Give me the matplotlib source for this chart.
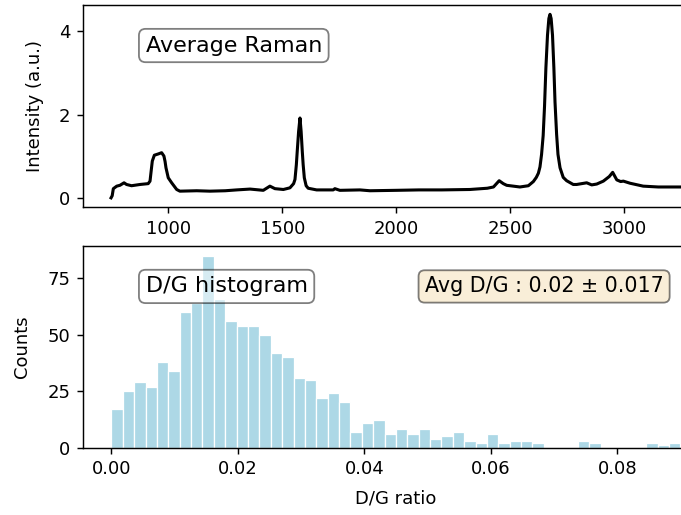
import numpy as np
import matplotlib
matplotlib.use("Agg")
import matplotlib.pyplot as plt

# averaged Raman spectrum
wavenumber = [749, 754, 759, 774, 788, 806, 817, 839, 876, 912, 920, 926, 930, 939, 956,
              971, 981, 986, 990, 1000, 1015, 1037, 1051, 1125, 1183, 1250, 1300, 1359,
              1417, 1446, 1468, 1505, 1534, 1550, 1556, 1562, 1566, 1572, 1578, 1583,
              1588, 1592, 1597, 1605, 1614, 1651, 1724, 1731, 1753, 1841, 1885, 2000,
              2100, 2200, 2323, 2400, 2427, 2452, 2470, 2485, 2543, 2580, 2602, 2615,
              2624, 2631, 2638, 2645, 2651, 2657, 2664, 2670, 2675, 2680, 2686, 2692,
              2697, 2704, 2710, 2719, 2733, 2748, 2777, 2792, 2836, 2858, 2880, 2909,
              2935, 2950, 2962, 2968, 2985, 2997, 3026, 3084, 3150, 3201, 3300, 3380]
intensity = [0.01, 0.06, 0.23, 0.29, 0.31, 0.37, 0.33, 0.30, 0.33, 0.35, 0.41, 0.70, 0.89,
             1.03, 1.06, 1.09, 1.01, 0.88, 0.73, 0.49, 0.37, 0.21, 0.17, 0.18, 0.17, 0.18,
             0.20, 0.22, 0.19, 0.29, 0.23, 0.21, 0.25, 0.35, 0.45, 0.80, 1.13, 1.60, 1.92,
             1.60, 1.13, 0.80, 0.49, 0.30, 0.24, 0.20, 0.20, 0.23, 0.19, 0.20, 0.18, 0.19,
             0.20, 0.20, 0.21, 0.24, 0.27, 0.42, 0.35, 0.31, 0.27, 0.30, 0.40, 0.50, 0.60,
             0.75, 1.05, 1.50, 2.20, 3.12, 3.90, 4.30, 4.40, 4.30, 3.90, 3.12, 2.30, 1.53,
             1.05, 0.73, 0.50, 0.42, 0.33, 0.33, 0.37, 0.32, 0.34, 0.41, 0.52, 0.62, 0.50,
             0.44, 0.40, 0.41, 0.36, 0.29, 0.27, 0.27, 0.27, 0.27]

# D/G ratio histogram counts (50 bins from 0 to 0.09)
dg_counts = [17, 25, 29, 27, 38, 34, 60, 64, 85, 66, 56, 54, 54, 50, 42, 40, 31, 30, 22, 24,
             20, 7, 11, 12, 6, 8, 6, 8, 4, 5, 7, 3, 2, 6, 2, 3, 3, 2, 0, 0,
             0, 3, 2, 0, 0, 0, 0, 2, 1, 2]
dg_min, dg_max = 0.0, 0.09
avg_text = "Avg D/G : 0.02 ± 0.017"

dpi = 130
fig = plt.figure(figsize=(681 / dpi, 515 / dpi), dpi=dpi)

# the original figure is cut on the right, so the axes run past the edge
ax1 = fig.add_axes([0.1219, 0.598, 0.919, 0.392])
ax2 = fig.add_axes([0.1219, 0.131, 0.919, 0.391])

ax1.plot(wavenumber, intensity, color="black", linewidth=1.7)
ax1.set_xlim(626, 3372)
ax1.set_yticks([0, 2, 4])
ax1.set_xticks([1000, 1500, 2000, 2500, 3000])
ax1.set_ylabel("Intensity (a.u.)", labelpad=8)
ax1.text(0.1, 0.80, "Average Raman", transform=ax1.transAxes, fontsize=12.3,
         ha="left", va="center",
         bbox=dict(boxstyle="round", facecolor="white", alpha=0.5))

edges = np.linspace(dg_min, dg_max, len(dg_counts) + 1)
ax2.hist(edges[:-1], bins=edges, weights=dg_counts, color="lightblue",
         edgecolor="white", linewidth=0.7)
ax2.set_xticks([0.0, 0.02, 0.04, 0.06, 0.08])
ax2.set_yticks([0, 25, 50, 75])
ax2.set_xlabel("D/G ratio", labelpad=6)
ax2.set_ylabel("Counts", labelpad=9)
ax2.text(0.1, 0.80, "D/G histogram", transform=ax2.transAxes, fontsize=12.3,
         ha="left", va="center",
         bbox=dict(boxstyle="round", facecolor="white", alpha=0.5))
ax2.text(0.546, 0.80, avg_text, transform=ax2.transAxes, fontsize=11.4,
         ha="left", va="center",
         bbox=dict(boxstyle="round", facecolor="wheat", alpha=0.5))

fig.savefig("out.png", dpi=dpi)
